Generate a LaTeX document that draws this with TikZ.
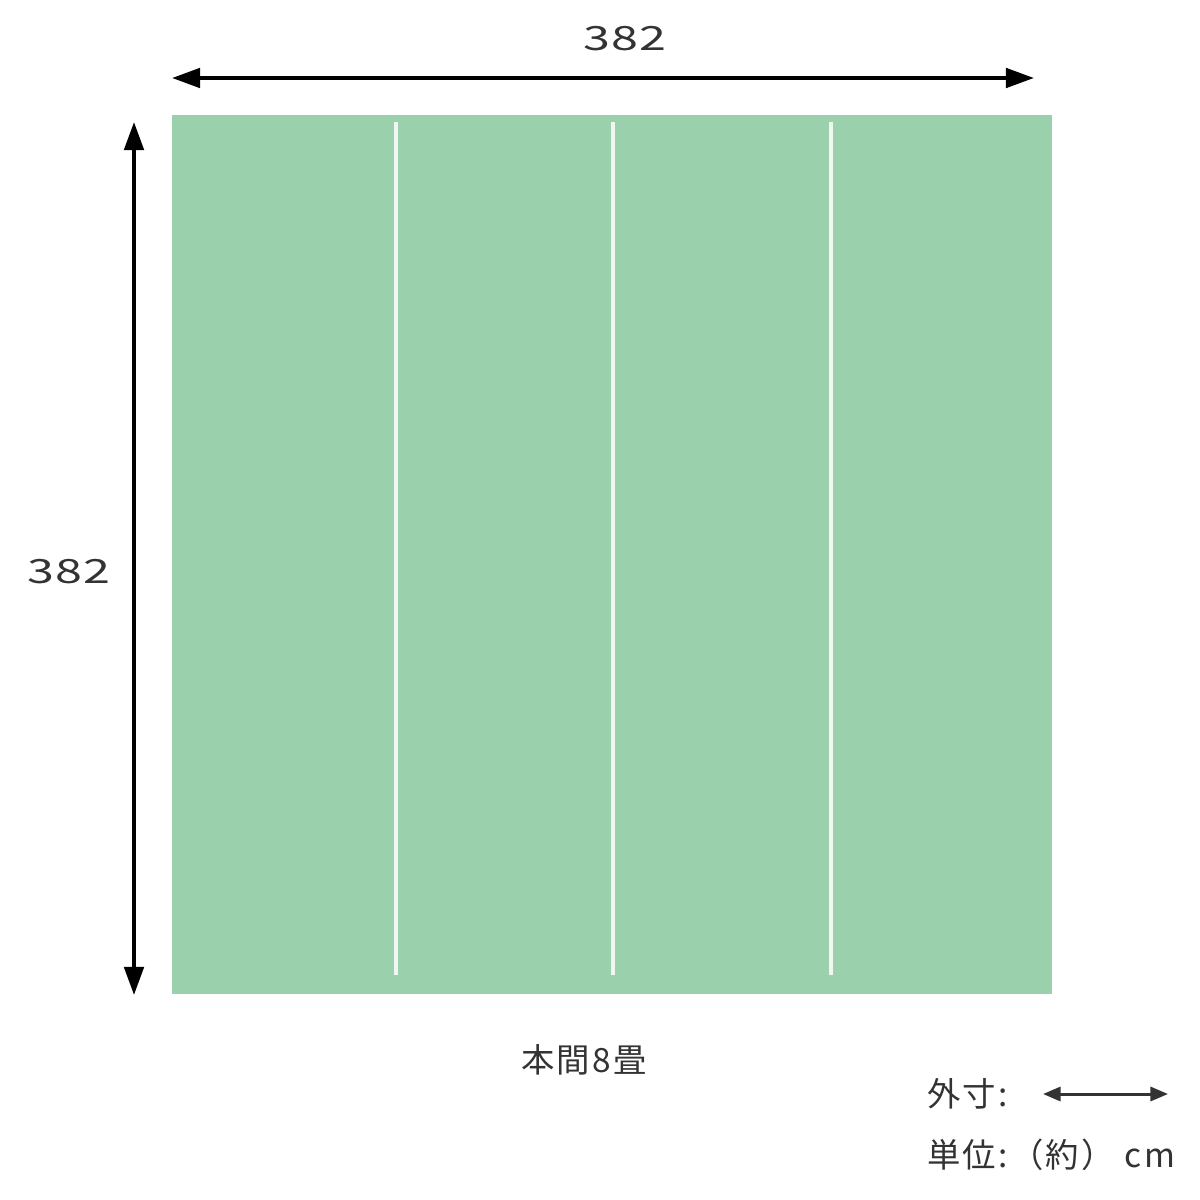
\documentclass[tikz,border=0pt]{standalone}
\usepackage{fontspec}
\setmainfont{Noto Sans CJK JP}[LetterSpace=7]
\newfontfamily\digitfont{Noto Sans CJK JP}[FakeStretch=1.45,LetterSpace=3]
\usetikzlibrary{arrows.meta}
\definecolor{tatami}{RGB}{154,208,171}
\definecolor{seam}{RGB}{240,246,240}
\definecolor{ink}{RGB}{51,51,51}

\begin{document}
\begin{tikzpicture}[x=0.02cm,y=-0.02cm,
    dim/.style={line width=2.3pt,{Triangle[length=16pt,width=11pt]}-{Triangle[length=16pt,width=11pt]}},
    key/.style={ink,line width=1.7pt,{Triangle[length=10pt,width=8pt]}-{Triangle[length=10pt,width=8pt]}},
    lbl/.style={ink,font=\fontsize{19}{22}\selectfont},
    num/.style={ink,font=\fontsize{19}{22}\selectfont\digitfont}]
    \useasboundingbox (0,0) rectangle (1200,1200);

    % mat with seams
    \fill[tatami] (172,115) rectangle (1052,994);
    \foreach \x in {396,613,831}
        \draw[seam,line width=2.2pt] (\x,122) -- (\x,975);

    % dimension lines
    \coordinate (wl) at (172,78);
    \coordinate (wr) at (1034,78);
    \draw[dim] (wl) -- (wr);
    \node[num] (width) at (625,39) {382};

    \coordinate (ht) at (134,122);
    \coordinate (hb) at (134,995);
    \draw[dim] (ht) -- (hb);
    \node[num] (height) at (69,572) {382};

    \node[lbl] (name) at (584,1060) {本間8畳};

    % legend
    \node[lbl,anchor=west] (outer) at (921,1094) {外寸:};
    \coordinate (kl) at (1043,1094);
    \coordinate (kr) at (1168,1094);
    \draw[key] (kl) -- (kr);
    \node[lbl,anchor=west] (unit) at (921,1155) {単位:（約） cm};
\end{tikzpicture}
\end{document}
